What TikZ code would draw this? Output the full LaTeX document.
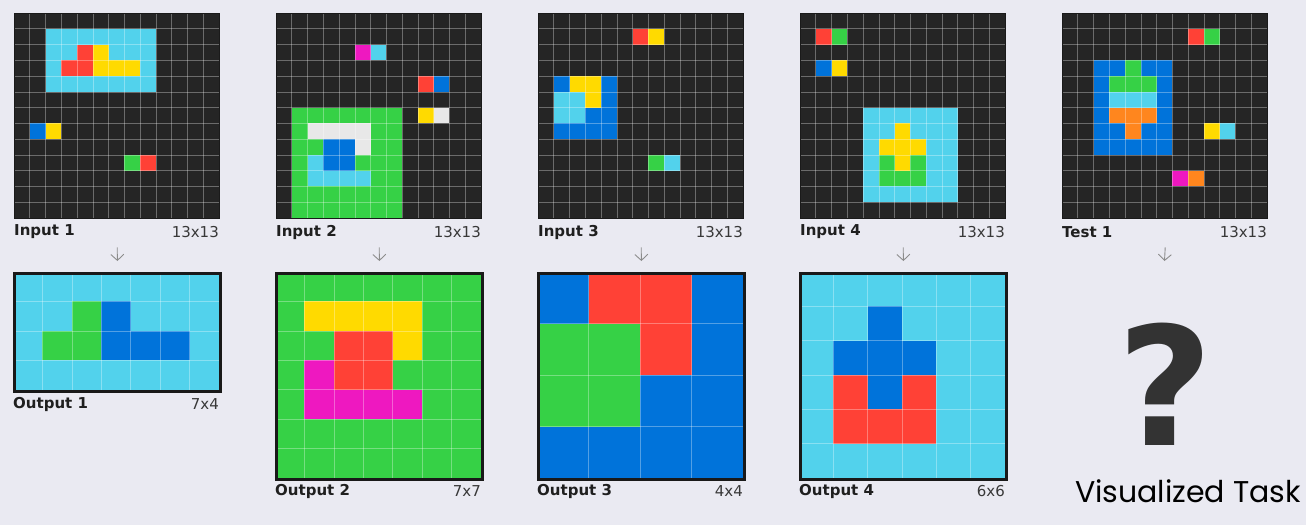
\documentclass[tikz,border=0pt]{standalone}
\usepackage{fontspec}
\setmainfont{DejaVu Sans}
\newfontfamily\handfont{Poppins}
\usepackage{tikz}
\usetikzlibrary{arrows.meta}
\definecolor{bgpanel}{HTML}{EAEAF2}
\definecolor{arcdark}{HTML}{252525}
\definecolor{arcblue}{HTML}{0073DA}
\definecolor{arcred}{HTML}{FF4136}
\definecolor{arcgreen}{HTML}{36D146}
\definecolor{arcyellow}{HTML}{FFDA00}
\definecolor{arcmagenta}{HTML}{EE18C0}
\definecolor{arcorange}{HTML}{FF861E}
\definecolor{arccyan}{HTML}{52D2EC}
\definecolor{arcwhite}{HTML}{E8E8E8}
\definecolor{qmark}{HTML}{333333}

\begin{document}
\begin{tikzpicture}[x=1pt,y=-1pt,>={Straight Barb[length=6pt,width=13pt]},
  cellgrid/.style={white,opacity=0.32,line width=0.7pt},
  inframe/.style={draw=arcdark!70!black,line width=1.4pt,inner sep=0pt,anchor=north west},
  outframe/.style={draw=black!90,line width=2.8pt,inner sep=0pt,anchor=north west},
  leftlab/.style={anchor=west,inner sep=0pt,font=\fontsize{15}{18}\selectfont\bfseries,text=black!88},
  rightlab/.style={anchor=east,inner sep=0pt,font=\fontsize{15}{18}\selectfont,text=black!78},
  downarrow/.style={->,gray!90,line width=0.9pt}]

\fill[bgpanel] (0,0) rectangle (1306,525);
\useasboundingbox (0,0) rectangle (1306,525);

% input 1
\begin{scope}[shift={(14pt,-13pt)},x=15.77pt,y=-15.77pt]
  \fill[arcdark] (0,0) rectangle (13,13);
  \fill[arccyan] (2,1) rectangle (9,5);
  \foreach \c/\r in {4/2,3/3,4/3,8/9} \fill[arcred] (\c,\r) rectangle ++(1,1);
  \foreach \c/\r in {5/2,5/3,6/3,7/3,2/7} \fill[arcyellow] (\c,\r) rectangle ++(1,1);
  \fill[arcblue] (1,7) rectangle ++(1,1);
  \fill[arcgreen] (7,9) rectangle ++(1,1);
  \foreach \k in {1,...,12} {\draw[cellgrid] (\k,0) -- (\k,13); \draw[cellgrid] (0,\k) -- (13,\k);}
\end{scope}

% input 2
\begin{scope}[shift={(276pt,-13pt)},x=15.77pt,y=-15.77pt]
  \fill[arcdark] (0,0) rectangle (13,13);
  \fill[arcgreen] (1,6) rectangle (8,13);
  \foreach \c/\r in {6/2,2/9,2/10,3/10,4/10,5/10} \fill[arccyan] (\c,\r) rectangle ++(1,1);
  \fill[arcmagenta] (5,2) rectangle ++(1,1);
  \fill[arcred] (9,4) rectangle ++(1,1);
  \foreach \c/\r in {10/4,3/8,4/8,3/9,4/9} \fill[arcblue] (\c,\r) rectangle ++(1,1);
  \fill[arcyellow] (9,6) rectangle ++(1,1);
  \foreach \c/\r in {10/6,2/7,3/7,4/7,5/7,5/8} \fill[arcwhite] (\c,\r) rectangle ++(1,1);
  \foreach \k in {1,...,12} {\draw[cellgrid] (\k,0) -- (\k,13); \draw[cellgrid] (0,\k) -- (13,\k);}
\end{scope}

% input 3
\begin{scope}[shift={(538pt,-13pt)},x=15.77pt,y=-15.77pt]
  \fill[arcdark] (0,0) rectangle (13,13);
  \fill[arcblue] (1,4) rectangle (5,8);
  \fill[arcred] (6,1) rectangle ++(1,1);
  \foreach \c/\r in {7/1,2/4,3/4,3/5} \fill[arcyellow] (\c,\r) rectangle ++(1,1);
  \fill[arcgreen] (7,9) rectangle ++(1,1);
  \foreach \c/\r in {8/9,1/5,2/5,1/6,2/6} \fill[arccyan] (\c,\r) rectangle ++(1,1);
  \foreach \k in {1,...,12} {\draw[cellgrid] (\k,0) -- (\k,13); \draw[cellgrid] (0,\k) -- (13,\k);}
\end{scope}

% input 4
\begin{scope}[shift={(800pt,-13pt)},x=15.77pt,y=-15.77pt]
  \fill[arcdark] (0,0) rectangle (13,13);
  \fill[arccyan] (4,6) rectangle (10,12);
  \fill[arcred] (1,1) rectangle ++(1,1);
  \fill[arcblue] (1,3) rectangle ++(1,1);
  \foreach \c/\r in {2/3,6/7,5/8,6/8,7/8,6/9} \fill[arcyellow] (\c,\r) rectangle ++(1,1);
  \foreach \c/\r in {2/1,5/9,7/9,5/10,6/10,7/10} \fill[arcgreen] (\c,\r) rectangle ++(1,1);
  \foreach \k in {1,...,12} {\draw[cellgrid] (\k,0) -- (\k,13); \draw[cellgrid] (0,\k) -- (13,\k);}
\end{scope}

% test 1
\begin{scope}[shift={(1062pt,-13pt)},x=15.77pt,y=-15.77pt]
  \fill[arcdark] (0,0) rectangle (13,13);
  \fill[arcblue] (2,3) rectangle (7,9);
  \fill[arcred] (8,1) rectangle ++(1,1);
  \foreach \c/\r in {9/1,4/3,3/4,4/4,5/4} \fill[arcgreen] (\c,\r) rectangle ++(1,1);
  \foreach \c/\r in {10/7,3/5,4/5,5/5} \fill[arccyan] (\c,\r) rectangle ++(1,1);
  \fill[arcyellow] (9,7) rectangle ++(1,1);
  \fill[arcmagenta] (7,10) rectangle ++(1,1);
  \foreach \c/\r in {8/10,3/6,4/6,5/6,4/7} \fill[arcorange] (\c,\r) rectangle ++(1,1);
  \foreach \k in {1,...,12} {\draw[cellgrid] (\k,0) -- (\k,13); \draw[cellgrid] (0,\k) -- (13,\k);}
\end{scope}

% output 1
\begin{scope}[shift={(13pt,-272pt)},x=29.43pt,y=-29.43pt]
  \fill[arccyan] (0,0) rectangle (7,4);
  \foreach \c/\r in {2/1,1/2,2/2} \fill[arcgreen] (\c,\r) rectangle ++(1,1);
  \foreach \c/\r in {3/1,3/2,4/2,5/2} \fill[arcblue] (\c,\r) rectangle ++(1,1);
  \foreach \k in {1,...,6} \draw[cellgrid] (\k,0) -- (\k,4);
  \foreach \k in {1,...,3} \draw[cellgrid] (0,\k) -- (7,\k);
\end{scope}

% output 2
\begin{scope}[shift={(275pt,-272pt)},x=29.43pt,y=-29.43pt]
  \fill[arcgreen] (0,0) rectangle (7,7);
  \foreach \c/\r in {1/1,2/1,3/1,4/1,4/2} \fill[arcyellow] (\c,\r) rectangle ++(1,1);
  \foreach \c/\r in {2/2,3/2,2/3,3/3} \fill[arcred] (\c,\r) rectangle ++(1,1);
  \foreach \c/\r in {1/3,1/4,2/4,3/4,4/4} \fill[arcmagenta] (\c,\r) rectangle ++(1,1);
  \foreach \k in {1,...,6} {\draw[cellgrid] (\k,0) -- (\k,7); \draw[cellgrid] (0,\k) -- (7,\k);}
\end{scope}

% output 3
\begin{scope}[shift={(537pt,-272pt)},x=51.5pt,y=-51.5pt]
  \fill[arcblue] (0,0) rectangle (4,4);
  \foreach \c/\r in {1/0,2/0,2/1} \fill[arcred] (\c,\r) rectangle ++(1,1);
  \foreach \c/\r in {0/1,1/1,0/2,1/2} \fill[arcgreen] (\c,\r) rectangle ++(1,1);
  \foreach \k in {1,...,3} {\draw[cellgrid] (\k,0) -- (\k,4); \draw[cellgrid] (0,\k) -- (4,\k);}
\end{scope}

% output 4
\begin{scope}[shift={(799pt,-272pt)},x=34.33pt,y=-34.33pt]
  \fill[arccyan] (0,0) rectangle (6,6);
  \foreach \c/\r in {2/1,1/2,2/2,3/2,2/3} \fill[arcblue] (\c,\r) rectangle ++(1,1);
  \foreach \c/\r in {1/3,3/3,1/4,2/4,3/4} \fill[arcred] (\c,\r) rectangle ++(1,1);
  \foreach \k in {1,...,5} {\draw[cellgrid] (\k,0) -- (\k,6); \draw[cellgrid] (0,\k) -- (6,\k);}
\end{scope}

% frames
\node[inframe,minimum width=205pt,minimum height=205pt] (in1) at (14,13) {};
\node[inframe,minimum width=205pt,minimum height=205pt] (in2) at (276,13) {};
\node[inframe,minimum width=205pt,minimum height=205pt] (in3) at (538,13) {};
\node[inframe,minimum width=205pt,minimum height=205pt] (in4) at (800,13) {};
\node[inframe,minimum width=205pt,minimum height=205pt] (test1) at (1062,13) {};
\node[outframe,minimum width=206pt,minimum height=117.7pt] (out1) at (13,272) {};
\node[outframe,minimum width=206pt,minimum height=206pt] (out2) at (275,272) {};
\node[outframe,minimum width=206pt,minimum height=206pt] (out3) at (537,272) {};
\node[outframe,minimum width=206pt,minimum height=206pt] (out4) at (799,272) {};

% labels
\node[leftlab] (in1name) at (14,232) {Input 1};
\node[rightlab] (in1size) at (219,232) {13x13};
\node[leftlab] (in2name) at (276,232) {Input 2};
\node[rightlab] (in2size) at (481,232) {13x13};
\node[leftlab] (in3name) at (538,232) {Input 3};
\node[rightlab] (in3size) at (743,232) {13x13};
\node[leftlab] (in4name) at (800,232) {Input 4};
\node[rightlab] (in4size) at (1005,232) {13x13};
\node[leftlab] (test1name) at (1062,232) {Test 1};
\node[rightlab] (test1size) at (1267,232) {13x13};
\node[leftlab] (out1name) at (13,404) {Output 1};
\node[rightlab] (out1size) at (219,404) {7x4};
\node[leftlab] (out2name) at (275,491) {Output 2};
\node[rightlab] (out2size) at (481,491) {7x7};
\node[leftlab] (out3name) at (537,491) {Output 3};
\node[rightlab] (out3size) at (743,491) {4x4};
\node[leftlab] (out4name) at (799,491) {Output 4};
\node[rightlab] (out4size) at (1005,491) {6x6};

% arrows
\draw[downarrow] ([yshift=-28pt]in1.south) -- ([yshift=11pt]out1.north);
\draw[downarrow] ([yshift=-28pt]in2.south) -- ([yshift=11pt]out2.north);
\draw[downarrow] ([yshift=-28pt]in3.south) -- ([yshift=11pt]out3.north);
\draw[downarrow] ([yshift=-28pt]in4.south) -- ([yshift=11pt]out4.north);
\coordinate (testgoal) at (1164.5,261);
\draw[downarrow] ([yshift=-28pt]test1.south) -- (testgoal);

\node[font=\fontsize{165}{165}\selectfont\bfseries,text=qmark,inner sep=0pt] (quest) at (1165,384) {?};
\node[anchor=base east,inner sep=0pt,font=\handfont\fontsize{30}{30}\selectfont,text=black] (tasktitle) at (1301,502) {Visualized Task};
\end{tikzpicture}
\end{document}
